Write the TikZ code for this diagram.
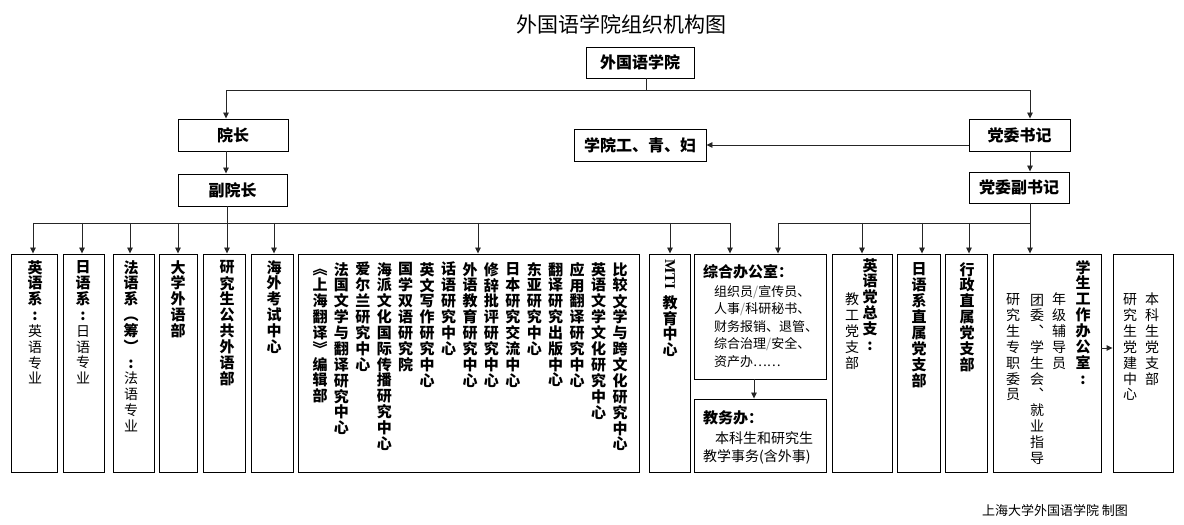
\documentclass[tikz,border=0pt]{standalone}
\usepackage{fontspec}
\setmainfont{Noto Sans CJK SC}
\newfontfamily\serifmti{Liberation Serif}
\usepackage{graphicx}
\usetikzlibrary{arrows.meta,fit}
\newcommand\colstrut{\vrule width 0pt height 12.8bp depth 3bp\relax}
\ExplSyntaxOn
\NewDocumentCommand\vseg{mm}{
  \tl_map_inline:nn {#2} { \hbox_to_wd:nn {16bp} { \hss #1 \colstrut ##1 \hss } }
}
\ExplSyntaxOff
\newcommand\vcol[1]{\vbox{\offinterlineskip #1}}
\newcommand\cjkrg{\mdseries\fontsize{14bp}{16bp}\selectfont}
\newcommand\cjkbd{\bfseries}
\newcommand\gsl{\textcolor{black!45}{/}}
\begin{document}
\begin{tikzpicture}[x=1bp,y=-1bp,
  box/.style={draw=black,line width=0.9bp,inner sep=0pt,rectangle},
  lbl/.style={font=\fontsize{16bp}{19bp}\selectfont\bfseries},
  col/.style={inner sep=0pt,anchor=north,font=\fontsize{15bp}{18bp}\selectfont},
  htx/.style={inner sep=0pt,anchor=west,font=\fontsize{13bp}{16bp}\selectfont},
  htxb/.style={inner sep=0pt,anchor=west,font=\fontsize{14bp}{16bp}\selectfont},
  hhd/.style={inner sep=0pt,anchor=west,font=\fontsize{15bp}{18bp}\selectfont\bfseries},
  conn/.style={draw=black!85,line width=0.9bp},
  arr/.style={conn,-{Triangle[length=6bp,width=5.5bp]}}]
\fill[white] (0,0) rectangle (1184,525);
\useasboundingbox (0,0) rectangle (1184,525);

% title
\node[font=\fontsize{21bp}{24bp}\selectfont] (title) at (621,24) {外国语学院组织机构图};

% upper boxes
\node[box,lbl,minimum width=108bp,minimum height=31bp] (root) at (640,62.5) {外国语学院};
\node[box,lbl,minimum width=110bp,minimum height=32bp] (dean) at (233,135) {院长};
\node[box,lbl,minimum width=109bp,minimum height=32bp] (vdean) at (232.5,190) {副院长};
\node[box,lbl,minimum width=132bp,minimum height=32bp] (union) at (640,145) {学院工、青、妇};
\node[box,lbl,minimum width=101bp,minimum height=32bp] (sec) at (1019.5,135) {党委书记};
\node[box,lbl,minimum width=100bp,minimum height=31bp] (vsec) at (1019,187.5) {党委副书记};

% bottom boxes
\node[box,fit={(11,254) (57,472)}] (b1) {};
\node[box,fit={(63,254) (104,472)}] (b2) {};
\node[box,fit={(113,254) (154,472)}] (b3) {};
\node[box,fit={(159,254) (197,472)}] (b4) {};
\node[box,fit={(203,254) (245,472)}] (b5) {};
\node[box,fit={(251,254) (293,472)}] (b6) {};
\node[box,fit={(298,254) (639,472)}] (b7) {};
\node[box,fit={(649,254) (690,472)}] (b8) {};
\node[box,fit={(694,254) (826,379)}] (b9) {};
\node[box,fit={(694,399) (826,472)}] (b10) {};
\node[box,fit={(832,254) (892,472)}] (b11) {};
\node[box,fit={(897,254) (940,472)}] (b12) {};
\node[box,fit={(945,254) (987,472)}] (b13) {};
\node[box,fit={(993,254) (1101,472)}] (b14) {};
\node[box,fit={(1113,254) (1173,472)}] (b15) {};

% connectors, top
\coordinate (jroot) at (646,90);
\coordinate (jL) at (226,90);
\coordinate (jR) at (1030,90);
\draw[conn] (jroot |- root.south) -- (jroot);
\draw[arr] (jroot) -- (jL) -- (jL |- dean.north);
\draw[arr] (jroot) -- (jR) -- (jR |- sec.north);
\draw[arr] (jL |- dean.south) -- (jL |- vdean.north);
\draw[arr] (jR |- sec.south) -- (jR |- vsec.north);
\draw[arr] (sec.west |- union.east) -- (union.east);

% buses
\coordinate (busLa) at (33,223);
\coordinate (busLb) at (730,223);
\coordinate (busRa) at (778,223);
\coordinate (bL) at (227,223);
\draw[conn] (busLa) -- (busLb);
\draw[conn] (busRa) -- (jR |- busRa);
\draw[arr] (bL |- vdean.south) -- (bL |- b5.north);
\draw[arr] (jR |- vsec.south) -- (jR |- b14.north);
\foreach \x/\t in {33/b1,82/b2,130/b3,178/b4,274/b6,478/b7,670/b8,730/b9}
  {\draw[arr] (\x,0 |- busLa) -- (\x,0 |- \t.north);}
\foreach \x/\t in {778/b9,862/b11,922/b12,969/b13}
  {\draw[arr] (\x,0 |- busRa) -- (\x,0 |- \t.north);}
\coordinate (jz) at (754,0);
\draw[arr] (jz |- b9.south) -- (jz |- b10.north);
\coordinate (jy) at (0,348);
\draw[arr] (b14.east |- jy) -- (b15.west |- jy);

% left columns
\node[col] (t1) at (35,260) {\vcol{\vseg\cjkbd{英语系:}\vseg\cjkrg{英语专业}}};
\node[col] (t2) at (83,260) {\vcol{\vseg\cjkbd{日语系:}\vseg\cjkrg{日语专业}}};
\node[col] (t3) at (131,260) {\vcol{\vseg\cjkbd{法语系︵筹︶:}\vseg\cjkrg{法语专业}}};
\node[col] (t4) at (178,260) {\vcol{\vseg\cjkbd{大学外语部}}};
\node[col] (t5) at (227,260) {\vcol{\vseg\cjkbd{研究生公共外语部}}};
\node[col] (t6) at (274,260) {\vcol{\vseg\cjkbd{海外考试中心}}};

% research centres
\node[col] (r1) at (620,262) {\vcol{\vseg\cjkbd{比较文学与跨文化研究中心}}};
\node[col] (r2) at (598.6,262) {\vcol{\vseg\cjkbd{英语文学文化研究中心}}};
\node[col] (r3) at (577.1,262) {\vcol{\vseg\cjkbd{应用翻译研究中心}}};
\node[col] (r4) at (555.7,262) {\vcol{\vseg\cjkbd{翻译研究出版中心}}};
\node[col] (r5) at (534.3,262) {\vcol{\vseg\cjkbd{东亚研究中心}}};
\node[col] (r6) at (512.9,262) {\vcol{\vseg\cjkbd{日本研究交流中心}}};
\node[col] (r7) at (491.4,262) {\vcol{\vseg\cjkbd{修辞批评研究中心}}};
\node[col] (r8) at (470,262) {\vcol{\vseg\cjkbd{外语教育研究中心}}};
\node[col] (r9) at (448.6,262) {\vcol{\vseg\cjkbd{话语研究中心}}};
\node[col] (r10) at (427.1,262) {\vcol{\vseg\cjkbd{英文写作研究中心}}};
\node[col] (r11) at (405.7,262) {\vcol{\vseg\cjkbd{国学双语研究院}}};
\node[col] (r12) at (384.3,262) {\vcol{\vseg\cjkbd{海派文化国际传播研究中心}}};
\node[col] (r13) at (362.9,262) {\vcol{\vseg\cjkbd{爱尔兰研究中心}}};
\node[col] (r14) at (341.4,262) {\vcol{\vseg\cjkbd{法国文学与翻译研究中心}}};
\node[col] (r15) at (320,262) {\vcol{\vseg\cjkbd{︽上海翻译︾编辑部}}};

% MTI
\node[col] (t8) at (670,259) {\vcol{\hbox to 16bp{\hss\rotatebox{-90}{\serifmti\bfseries MTI}\hss}\kern 6bp\vseg\cjkbd{教育中心}}};

% office boxes
\node[hhd] (z0) at (703,272) {综合办公室：};
\node[htx] (z1) at (714,292) {组织员\gsl 宣传员、};
\node[htx] (z2) at (714,309.5) {人事\gsl 科研秘书、};
\node[htx] (z3) at (714,327) {财务报销、退管、};
\node[htx] (z4) at (714,344.5) {综合治理\gsl 安全、};
\node[htx] (z5) at (714,362) {资产办……};
\node[hhd] (w0) at (703,418) {教务办：};
\node[htxb] (w1) at (715,438) {本科生和研究生};
\node[htxb] (w2) at (703,457) {教学事务(含外事)};

% party columns
\node[col] (p1) at (870,258) {\vcol{\vseg\cjkbd{英语党总支:}}};
\node[col] (p2) at (852,292) {\vcol{\vseg\cjkrg{教工党支部}}};
\node[col] (p3) at (919,262) {\vcol{\vseg\cjkbd{日语系直属党支部}}};
\node[col] (p4) at (967,262) {\vcol{\vseg\cjkbd{行政直属党支部}}};
\node[col] (s1) at (1083,260) {\vcol{\vseg\cjkbd{学生工作办公室:}}};
\node[col] (s2) at (1059,292) {\vcol{\vseg\cjkrg{年级辅导员}}};
\node[col] (s3) at (1037,292) {\vcol{\vseg\cjkrg{团委︑学生会︑就业指导}}};
\node[col] (s4) at (1013,292) {\vcol{\vseg\cjkrg{研究生专职委员}}};
\node[col] (u1) at (1152,292) {\vcol{\vseg\cjkrg{本科生党支部}}};
\node[col] (u2) at (1130,292) {\vcol{\vseg\cjkrg{研究生党建中心}}};

% footer
\node[font=\fontsize{13bp}{15bp}\selectfont] (foot) at (1055,511) {上海大学外国语学院 制图};
\end{tikzpicture}
\end{document}
